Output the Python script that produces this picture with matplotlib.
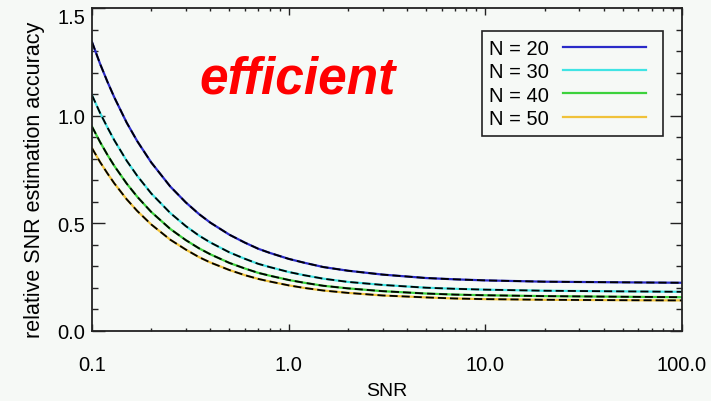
import numpy as np
import matplotlib
matplotlib.use("Agg")
from matplotlib import pyplot as plt
from matplotlib import transforms
from matplotlib.legend_handler import HandlerLine2D

# values
snr = [0.1, 0.11, 0.12, 0.13, 0.15, 0.17, 0.2, 0.25, 0.3, 0.35, 0.4, 0.5, 0.6, 0.7, 0.8,
       1.0, 1.2, 1.5, 2.0, 3.0, 5.0, 7.0, 10.0, 20.0, 50.0, 100.0]
acc_n20 = [1.342, 1.240, 1.156, 1.084, 0.968, 0.881, 0.783, 0.671, 0.597, 0.543, 0.503, 0.447, 0.410,
           0.382, 0.363, 0.335, 0.317, 0.297, 0.280, 0.262, 0.246, 0.240, 0.235, 0.229, 0.226, 0.224]
acc_n30 = [1.095, 1.012, 0.944, 0.885, 0.791, 0.720, 0.639, 0.548, 0.487, 0.443, 0.411, 0.365, 0.335,
           0.312, 0.297, 0.274, 0.259, 0.243, 0.228, 0.214, 0.201, 0.196, 0.192, 0.187, 0.184, 0.182]
acc_n40 = [0.949, 0.877, 0.817, 0.766, 0.685, 0.623, 0.553, 0.474, 0.422, 0.384, 0.356, 0.316, 0.290,
           0.270, 0.257, 0.237, 0.224, 0.210, 0.198, 0.185, 0.174, 0.169, 0.166, 0.162, 0.159, 0.157]
acc_n50 = [0.849, 0.784, 0.731, 0.685, 0.612, 0.557, 0.495, 0.424, 0.378, 0.343, 0.318, 0.283, 0.259,
           0.242, 0.230, 0.212, 0.200, 0.188, 0.177, 0.165, 0.156, 0.151, 0.148, 0.145, 0.143, 0.142]
series_labels = ["N = 20", "N = 30", "N = 40", "N = 50"]
series_colors = ["#2a2ac8", "#40e4e4", "#3cd23c", "#f0c23a"]

xticks = [0.1, 1.0, 10.0, 100.0]
xticklabels = ["0.1", "1.0", "10.0", "100.0"]
yticks = [0.0, 0.5, 1.0, 1.5]
yticklabels = ["0.0", "0.5", "1.0", "1.5"]

bg = "#f6f9f6"
plt.rcParams["font.family"] = ["Liberation Sans", "DejaVu Sans"]


class RightGapLine(HandlerLine2D):
    # legend line that stops short of the frame on the right, as in the original
    def create_artists(self, legend, orig_handle, xdescent, ydescent, width, height, fontsize, trans):
        return super().create_artists(legend, orig_handle, xdescent, ydescent, width - 6.5,
                                      height, fontsize, trans)


fig = plt.figure(figsize=(7.11, 4.02), dpi=100, facecolor=bg)
ax = fig.add_axes([92 / 711, 1 - 332 / 402, 590 / 711, 323 / 402], facecolor=bg)

handles = []
for vals, lab, col in zip([acc_n20, acc_n30, acc_n40, acc_n50], series_labels, series_colors):
    h, = ax.plot(snr, vals, color=col, lw=1.6, label=lab)
    ax.plot(snr, vals, color="black", lw=1.3, dashes=(4.5, 2.2))
    handles.append(h)

ax.set_xscale("log")
ax.set_xlim(0.1, 100)
ax.set_ylim(0, 1.5)
ax.set_xticks(xticks)
ax.set_xticklabels(xticklabels)
ax.set_yticks(yticks)
ax.set_yticklabels(yticklabels)
ax.set_yticks(np.arange(0, 1.51, 0.1), minor=True)
ax.xaxis.set_minor_formatter(plt.NullFormatter())

ax.tick_params(which="both", direction="in", top=True, right=True, color="#222222")
ax.tick_params(axis="x", which="major", length=5, width=1, pad=17, labelsize=14.5)
ax.tick_params(axis="x", which="minor", length=2.5, width=1)
ax.tick_params(axis="y", which="major", length=9, width=1, pad=5, labelsize=14.5)
ax.tick_params(axis="y", which="minor", length=4.5, width=1)
for s in ax.spines.values():
    s.set_linewidth(1.3)
    s.set_color("#222222")

# IDL places the top label a bit below its tick
top_lab = ax.get_yticklabels()[-1]
top_lab.set_transform(top_lab.get_transform() + transforms.ScaledTranslation(0, -8 / 100, fig.dpi_scale_trans))

ax.set_xlabel("SNR", fontsize=14, labelpad=6)
ax.set_ylabel("relative SNR estimation accuracy", fontsize=15.5)
ax.yaxis.set_label_coords(-47 / 590, 0.47)

fig.text(298 / 711, 1 - 80 / 402, "efficient", fontsize=37, color="#ff0000",
         fontweight="bold", fontstyle="italic", ha="center", va="center")

leg = ax.legend(handles=handles, loc="upper right", bbox_to_anchor=(571 / 590, 1 - 23 / 323),
                markerfirst=False, fancybox=False, framealpha=1, facecolor=bg, edgecolor="#222222",
                fontsize=14.5, handlelength=4.57, handletextpad=0.7, labelspacing=0.22, borderpad=0.38,
                borderaxespad=0, handler_map={h: RightGapLine() for h in handles})
leg.get_frame().set_linewidth(1.2)
for line in leg.get_lines():
    line.set_linewidth(1.6)

fig.savefig("out.png", dpi=100, facecolor=bg)
